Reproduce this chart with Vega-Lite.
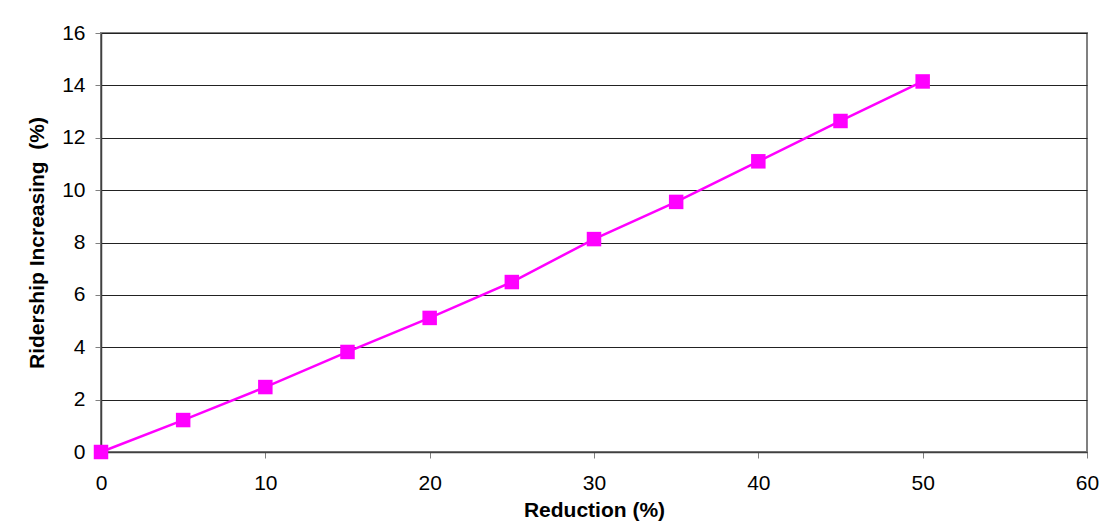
{
  "$schema": "https://vega.github.io/schema/vega-lite/v6.json",
  "autosize": {"type": "none"},
  "width": 986,
  "height": 419,
  "padding": {"left": 101, "top": 33, "right": 28, "bottom": 77},
  "background": "white",
  "config": {
    "view": {"stroke": "#808080", "strokeWidth": 2},
    "font": "Liberation Sans",
    "axis": {
      "labelFont": "Liberation Sans",
      "titleFont": "Liberation Sans",
      "labelFontSize": 21,
      "titleFontSize": 21,
      "titleFontWeight": "bold",
      "labelColor": "black",
      "titleColor": "black",
      "tickColor": "#808080",
      "tickSize": 6,
      "domainColor": "#404040",
      "domainWidth": 1.5,
      "labelFlush": false
    }
  },
  "data": {
    "values": [
      {"reduction": 0, "ridership": 0},
      {"reduction": 5, "ridership": 1.22},
      {"reduction": 10, "ridership": 2.48},
      {"reduction": 15, "ridership": 3.82},
      {"reduction": 20, "ridership": 5.12},
      {"reduction": 25, "ridership": 6.49},
      {"reduction": 30, "ridership": 8.13},
      {"reduction": 35, "ridership": 9.55},
      {"reduction": 40, "ridership": 11.1},
      {"reduction": 45, "ridership": 12.64},
      {"reduction": 50, "ridership": 14.15}
    ]
  },
  "encoding": {
    "x": {
      "field": "reduction",
      "type": "quantitative",
      "scale": {"domain": [0, 60], "nice": false},
      "axis": {"values": [0, 10, 20, 30, 40, 50, 60], "grid": false, "title": "Reduction (%)", "titlePadding": 6, "labelPadding": 14}
    },
    "y": {
      "field": "ridership",
      "type": "quantitative",
      "scale": {"domain": [0, 16], "nice": false},
      "axis": {"values": [0, 2, 4, 6, 8, 10, 12, 14, 16], "grid": true, "gridColor": "#222222", "gridWidth": 1, "gridOpacity": 1, "title": "Ridership Increasing \u00a0(%)", "titlePadding": 14, "labelPadding": 10}
    }
  },
  "layer": [
    {"mark": {"type": "line", "color": "#FF00FF", "strokeWidth": 2.5}},
    {"mark": {"type": "point", "shape": "square", "filled": true, "color": "#FF00FF", "opacity": 1, "size": 210}}
  ]
}
